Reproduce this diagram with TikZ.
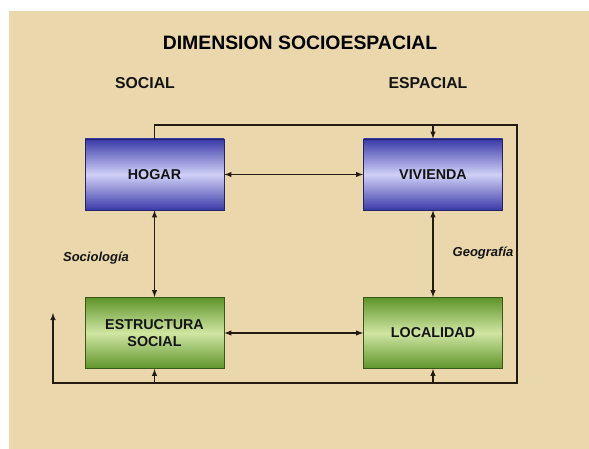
\documentclass[tikz,border=0pt]{standalone}
\usepackage{fontspec}
\setmainfont{Liberation Sans}
\usepackage{xcolor}
\usepackage{tikz}
\usetikzlibrary{calc}
\usetikzlibrary{shapes,arrows,positioning}
\usetikzlibrary{backgrounds}
\definecolor{parchment}{RGB}{234,215,172}
\definecolor{inkbrown}{RGB}{35,26,18}
\definecolor{blueedge}{RGB}{58,58,168}
\definecolor{bluemid}{RGB}{208,208,248}
\definecolor{greenedge}{RGB}{94,148,42}
\definecolor{greenmid}{RGB}{208,230,162}
\begin{document}
\begin{tikzpicture}[x=1pt,y=-1pt,
	box/.style={minimum width=139pt,minimum height=71pt,inner sep=0pt,align=center,
		font=\fontsize{14.3}{17}\selectfont\bfseries,text=black!92},
	bluebox/.style={box,top color=blueedge,bottom color=blueedge,middle color=bluemid,draw=blueedge!60!black,line width=0.8pt},
	greenbox/.style={box,top color=greenedge,bottom color=greenedge,middle color=greenmid,draw=greenedge!60!black,line width=0.8pt},
	link/.style={line width=1.4pt,inkbrown},
	head/.style={font=\fontsize{15.8}{18}\selectfont\bfseries,text=black!92},
	field/.style={font=\fontsize{13}{15}\selectfont\bfseries\itshape,text=black!92}]
	  	\useasboundingbox (0,0) rectangle (589,449);
	  	\fill[parchment] (9,11) rectangle (589,449);
	  	\node (title) at (300,43) {\fontsize{19.4}{22}\selectfont\bfseries DIMENSION SOCIOESPACIAL};
	  	\node[head] (social) at (145,83) {SOCIAL};
	  	\node[head] (espacial) at (428,83) {ESPACIAL};
	  	\node[bluebox] (hogar) at (154.5,174.5) {HOGAR};
	  	\node[bluebox] (vivienda) at (433,174.5) {VIVIENDA};
	  	\node[greenbox] (estructura) at (154.5,333) {ESTRUCTURA\\SOCIAL};
	  	\node[greenbox] (localidad) at (433,333) {LOCALIDAD};
	  	\node[field] (socio) at (96,258) {Sociología};
	  	\node[field] (geo) at (483,253) {Geografía};
	  	\coordinate (topright) at (517,125);
	  	\coordinate (botright) at (517,383);
	  	\coordinate (botleft) at (53,383);
	  	\coordinate (leftend) at (53,313);
	  	\draw [latex-latex,link](hogar) -- (vivienda);
	  	\draw [latex-latex,link](estructura) -- (localidad);
	  	\draw [latex-latex,link](hogar) -- (estructura);
	  	\draw [latex-latex,link](vivienda) -- (localidad);
	  	\draw [-latex,link](hogar.north) |- (topright) -- (botright) -- (botleft) -- (leftend);
	  	\draw [-latex,link](vivienda.north |- topright) -- (vivienda.north);
	  	\draw [-latex,link](estructura.south |- botleft) -- (estructura.south);
	  	\draw [-latex,link](localidad.south |- botleft) -- (localidad.south);
	  \end{tikzpicture}
\end{document}
